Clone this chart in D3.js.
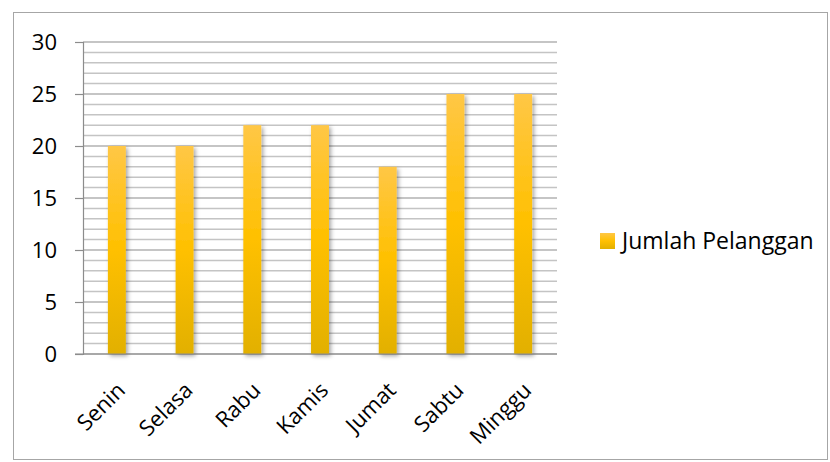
<!DOCTYPE html>
<html>
<head>
<meta charset="utf-8">
<script src="https://cdn.jsdelivr.net/npm/d3@7"></script>
<style>
  body { margin: 0; background: #fff; }
  svg { display: block; font-family: "Open Sans", sans-serif; }
</style>
</head>
<body>
<div class="center"></div>
<script>
// data
const days = ["Senin", "Selasa", "Rabu", "Kamis", "Jumat", "Sabtu", "Minggu"];
const pelanggan = [20, 20, 22, 22, 18, 25, 25];
const yTicks = [0, 5, 10, 15, 20, 25, 30];
const seriesName = "Jumlah Pelanggan";

const W = 830, H = 462;
const plot = {left: 83, right: 557, top: 42, bottom: 354};

const svg = d3.select(".center").append("svg")
    .attr("width", W)
    .attr("height", H);

const defs = svg.append("defs");

// gradient for the bars
const grad = defs.append("linearGradient")
    .attr("id", "barGrad")
    .attr("x1", 0).attr("y1", 0).attr("x2", 0).attr("y2", 1);
grad.append("stop").attr("offset", "0%").attr("stop-color", "#ffc746");
grad.append("stop").attr("offset", "50%").attr("stop-color", "#ffc000");
grad.append("stop").attr("offset", "100%").attr("stop-color", "#e2b000");

// soft shadow
const shadow = defs.append("filter")
    .attr("id", "shadow")
    .attr("x", "-50%").attr("y", "-10%")
    .attr("width", "200%").attr("height", "120%");
shadow.append("feDropShadow")
    .attr("dx", 2).attr("dy", 2)
    .attr("stdDeviation", 2)
    .attr("flood-color", "#000")
    .attr("flood-opacity", 0.35);

// outer chart border
svg.append("rect")
    .attr("x", 13.5).attr("y", 12.5)
    .attr("width", 814).attr("height", 447)
    .attr("fill", "none")
    .attr("stroke", "#a6a6a6")
    .attr("stroke-width", 1);

// scales
const xScale = d3.scaleBand()
    .domain(days)
    .range([plot.left, plot.right])
    .paddingInner(0.735)
    .paddingOuter(0.3675);

const yScale = d3.scaleLinear()
    .domain([0, 30])
    .range([plot.bottom, plot.top]);

// minor gridlines (every 1)
svg.append("g")
    .selectAll("line")
    .data(d3.range(0, 31).filter(v => v % 5 !== 0))
    .enter().append("line")
    .attr("x1", plot.left).attr("x2", plot.right)
    .attr("y1", d => yScale(d)).attr("y2", d => yScale(d))
    .attr("stroke", "#c4c4c4")
    .attr("stroke-width", 1.5);

// major gridlines
svg.append("g")
    .selectAll("line")
    .data(yTicks)
    .enter().append("line")
    .attr("x1", plot.left).attr("x2", plot.right)
    .attr("y1", d => yScale(d)).attr("y2", d => yScale(d))
    .attr("stroke", "#8c8c8c")
    .attr("stroke-width", 1.2);

// y axis
const yAxis = d3.axisLeft(yScale)
    .tickValues(yTicks)
    .tickSize(8)
    .tickPadding(18);
const yg = svg.append("g")
    .attr("transform", `translate(${plot.left},0)`)
    .call(yAxis);
yg.select(".domain").attr("stroke", "#8c8c8c").attr("stroke-width", 1.2);
yg.selectAll(".tick line").attr("stroke", "#8c8c8c").attr("stroke-width", 1.2);
yg.selectAll(".tick text")
    .attr("font-family", "Open Sans, sans-serif")
    .attr("font-size", "22px")
    .attr("fill", "#000");

// bars
svg.append("g")
    .selectAll("rect")
    .data(pelanggan)
    .enter().append("rect")
    .attr("x", (d, i) => xScale(days[i]))
    .attr("y", d => yScale(d))
    .attr("width", xScale.bandwidth())
    .attr("height", d => yScale(0) - yScale(d))
    .attr("fill", "url(#barGrad)")
    .attr("filter", "url(#shadow)");

// x axis line
svg.append("line")
    .attr("x1", plot.left - 8).attr("x2", plot.right)
    .attr("y1", plot.bottom).attr("y2", plot.bottom)
    .attr("stroke", "#8c8c8c")
    .attr("stroke-width", 1.2);

// category labels, rotated
svg.append("g")
    .selectAll("text")
    .data(days)
    .enter().append("text")
    .attr("transform", d => `translate(${xScale(d) + xScale.bandwidth() / 2 - 2},${plot.bottom + 26}) rotate(-45)`)
    .attr("text-anchor", "end")
    .attr("dy", "0.75em")
    .attr("font-size", "22px")
    .attr("fill", "#000")
    .text(d => d);

// legend
const legend = svg.append("g").attr("transform", "translate(600,233)");
legend.append("rect")
    .attr("width", 15).attr("height", 16)
    .attr("fill", "url(#barGrad)");
legend.append("text")
    .attr("x", 22).attr("y", 16)
    .attr("font-size", "23px")
    .attr("fill", "#000")
    .text(seriesName);
</script>
</body>
</html>
